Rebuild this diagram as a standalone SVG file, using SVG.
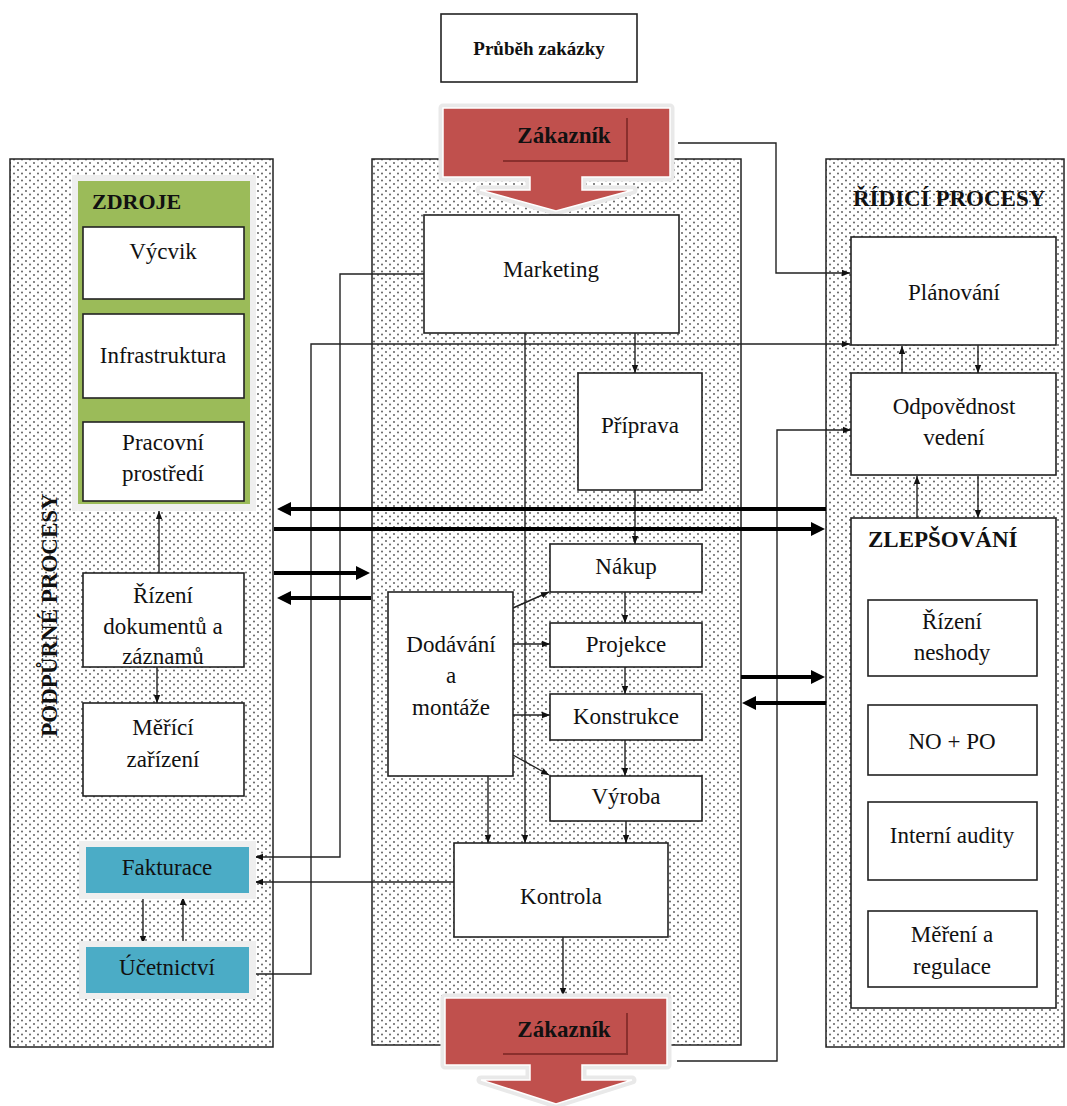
<svg xmlns="http://www.w3.org/2000/svg" width="1067" height="1106" viewBox="0 0 1067 1106">
  <defs>
    <pattern id="dots" width="8" height="7" patternUnits="userSpaceOnUse">
      <circle cx="2" cy="2" r="0.9" fill="#505050"/>
      <circle cx="6" cy="5.5" r="0.9" fill="#505050"/>
    </pattern>
    <marker id="arr" viewBox="0 0 10 10" refX="10" refY="5" markerWidth="8" markerHeight="8" markerUnits="userSpaceOnUse" orient="auto">
      <path d="M0,1 L10,5 L0,9 z" fill="#111"/>
    </marker>
    <marker id="arrBig" viewBox="0 0 14 14" refX="1" refY="7" markerWidth="14" markerHeight="14" markerUnits="userSpaceOnUse" orient="auto">
      <path d="M0,0 L14,7 L0,14 z" fill="#000"/>
    </marker>
  </defs>
  <style>
    .panel { fill: url(#dots); stroke: #222; stroke-width: 1.5; }
    .box { fill: #fff; stroke: #222; stroke-width: 1.6; }
    text { font-family: 'Liberation Serif', 'DejaVu Serif', serif; fill: #111; }
    .t { font-size: 23px; text-anchor: middle; }
    .h { font-size: 23px; font-weight: bold; }
    .c { fill: none; stroke: #222; stroke-width: 1.4; marker-end: url(#arr); }
    .thick { fill: none; stroke: #000; stroke-width: 4; marker-end: url(#arrBig); }
    .halo { fill: #e9e9e9; stroke: #e9e9e9; stroke-width: 9; stroke-linejoin: round; }
    .red { fill: #C0504D; stroke: #fff; stroke-width: 1.5; stroke-linejoin: miter; }
    .bevel { fill: none; stroke: #8a2f2d; stroke-width: 2; }
  </style>

  <!-- process areas -->
  <g id="panel-podpurne">
    <rect class="panel" x="10" y="159" width="263" height="888"/>
    <text class="h" text-anchor="middle" transform="translate(57,615) rotate(-90)">PODPŮRNÉ PROCESY</text>
  </g>
  <g id="panel-realizace">
    <rect class="panel" x="372" y="159" width="369" height="886"/>
  </g>
  <g id="panel-ridici">
    <rect class="panel" x="826" y="159" width="238" height="888"/>
    <text class="h" x="853" y="206">ŘÍDICÍ PROCESY</text>
  </g>

  <!-- connectors -->
  <g id="connectors">
    <path class="c" d="M678,143 H776 V273 H850"/>
    <path class="c" d="M677,1061 H777 V430 H851"/>
    <path class="c" d="M635,333 V373"/>
    <path class="c" d="M635,490 V544"/>
    <path class="c" d="M625,592 V623"/>
    <path class="c" d="M625,667 V694"/>
    <path class="c" d="M625,740 V776"/>
    <path class="c" d="M626,821 V843"/>
    <path class="c" d="M525,333 V843"/>
    <path class="c" d="M488,776 V843"/>
    <path class="c" d="M513,608 L549,592"/>
    <path class="c" d="M513,644 H550"/>
    <path class="c" d="M513,715 H550"/>
    <path class="c" d="M513,755 L549,775"/>
    <path class="c" d="M563,937 V996"/>
    <path class="c" d="M454,882 H255"/>
    <path class="c" d="M424,274 H340 V857 H255"/>
    <path class="c" d="M255,974 H311 V344 H850"/>
    <path class="c" d="M143,896 V944"/>
    <path class="c" d="M183,944 V897"/>
    <path class="c" d="M159,573 V511"/>
    <path class="c" d="M157,667 V703"/>
    <path class="c" d="M902,373 V346"/>
    <path class="c" d="M978,346 V373"/>
    <path class="c" d="M917,518 V476"/>
    <path class="c" d="M978,476 V518"/>
    <path class="thick" d="M826,509 H290"/>
    <path class="thick" d="M274,529 H812"/>
    <path class="thick" d="M274,573 H357"/>
    <path class="thick" d="M371,598 H290"/>
    <path class="thick" d="M741,677 H812"/>
    <path class="thick" d="M826,703 H755"/>
  </g>

  <!-- title -->
  <g id="title">
    <rect class="box" x="441" y="14" width="196" height="68"/>
    <text class="h" x="539" y="55" text-anchor="middle" style="font-size:19px">Průběh zakázky</text>
  </g>

  <!-- customer, entry -->
  <g id="zakaznik-vstup">
    <path class="halo" d="M443,108 H670 V177 H582 V190 H633 L556,211 L480,190 H530 V177 H443 Z"/>
    <path class="red" d="M443,108 H670 V177 H582 V190 H633 L556,211 L480,190 H530 V177 H443 Z"/>
    <path class="bevel" d="M503,161 H627 V118"/>
    <text class="h" x="564" y="143" text-anchor="middle">Zákazník</text>
  </g>

  <!-- customer, exit -->
  <g id="zakaznik-vystup">
    <path class="halo" d="M445,998 H667 V1065 H582 V1080 H632 L556,1104 L481,1080 H530 V1065 H445 Z"/>
    <path class="red" d="M445,998 H667 V1065 H582 V1080 H632 L556,1104 L481,1080 H530 V1065 H445 Z"/>
    <path class="bevel" d="M503,1054 H627 V1013"/>
    <text class="h" x="564" y="1037" text-anchor="middle">Zákazník</text>
  </g>

  <!-- resources -->
  <g id="zdroje">
    <rect x="72" y="175" width="184" height="336" fill="#efefef"/>
    <rect x="78" y="181" width="172" height="323" fill="#9BBB59"/>
    <text class="h" x="92" y="209" style="font-size:22px">ZDROJE</text>
  </g>
  <g id="vycvik">
    <rect class="box" x="83" y="227" width="161" height="72"/>
    <text class="t" x="163" y="259">Výcvik</text>
  </g>
  <g id="infrastruktura">
    <rect class="box" x="83" y="314" width="161" height="84"/>
    <text class="t" x="163" y="363">Infrastruktura</text>
  </g>
  <g id="pracovni-prostredi">
    <rect class="box" x="83" y="422" width="161" height="79"/>
    <text class="t" x="163" y="450">Pracovní</text>
    <text class="t" x="163" y="481">prostředí</text>
  </g>
  <g id="rizeni-dokumentu">
    <rect class="box" x="83" y="573" width="161" height="94"/>
    <text class="t" x="163" y="603">Řízení</text>
    <text class="t" x="163" y="634">dokumentů a</text>
    <text class="t" x="163" y="664">záznamů</text>
  </g>
  <g id="merici-zarizeni">
    <rect class="box" x="83" y="703" width="161" height="93"/>
    <text class="t" x="163" y="735">Měřící</text>
    <text class="t" x="163" y="767">zařízení</text>
  </g>
  <g id="fakturace">
    <rect x="79" y="841" width="177" height="58" fill="#efefef"/>
    <rect x="86" y="847" width="163" height="46" fill="#4BACC6"/>
    <text class="t" x="167" y="875">Fakturace</text>
  </g>
  <g id="ucetnictvi">
    <rect x="79" y="941" width="177" height="58" fill="#efefef"/>
    <rect x="86" y="947" width="163" height="46" fill="#4BACC6"/>
    <text class="t" x="167" y="975">Účetnictví</text>
  </g>

  <!-- realisation -->
  <g id="marketing">
    <rect class="box" x="424" y="215" width="255" height="118"/>
    <text class="t" x="551" y="277">Marketing</text>
  </g>
  <g id="priprava">
    <rect class="box" x="578" y="373" width="124" height="117"/>
    <text class="t" x="640" y="433">Příprava</text>
  </g>
  <g id="nakup">
    <rect class="box" x="550" y="544" width="152" height="48"/>
    <text class="t" x="626" y="574">Nákup</text>
  </g>
  <g id="projekce">
    <rect class="box" x="550" y="623" width="152" height="44"/>
    <text class="t" x="626" y="652">Projekce</text>
  </g>
  <g id="konstrukce">
    <rect class="box" x="550" y="694" width="152" height="46"/>
    <text class="t" x="626" y="724">Konstrukce</text>
  </g>
  <g id="vyroba">
    <rect class="box" x="550" y="776" width="152" height="45"/>
    <text class="t" x="626" y="804">Výroba</text>
  </g>
  <g id="dodavani-montaze">
    <rect class="box" x="388" y="592" width="125" height="184"/>
    <text class="t" x="451" y="652">Dodávání</text>
    <text class="t" x="451" y="683">a</text>
    <text class="t" x="451" y="715">montáže</text>
  </g>
  <g id="kontrola">
    <rect class="box" x="454" y="843" width="214" height="94"/>
    <text class="t" x="561" y="904">Kontrola</text>
  </g>

  <!-- management -->
  <g id="planovani">
    <rect class="box" x="851" y="237" width="205" height="108"/>
    <text class="t" x="954" y="300">Plánování</text>
  </g>
  <g id="odpovednost-vedeni">
    <rect class="box" x="851" y="373" width="205" height="102"/>
    <text class="t" x="954" y="414">Odpovědnost</text>
    <text class="t" x="954" y="445">vedení</text>
  </g>
  <g id="zlepsovani">
    <rect class="box" x="851" y="518" width="205" height="490"/>
    <text class="h" x="868" y="547">ZLEPŠOVÁNÍ</text>
  </g>
  <g id="rizeni-neshody">
    <rect class="box" x="868" y="600" width="169" height="76"/>
    <text class="t" x="952" y="629">Řízení</text>
    <text class="t" x="952" y="660">neshody</text>
  </g>
  <g id="no-po">
    <rect class="box" x="868" y="705" width="169" height="70"/>
    <text class="t" x="952" y="749">NO + PO</text>
  </g>
  <g id="interni-audity">
    <rect class="box" x="868" y="802" width="169" height="78"/>
    <text class="t" x="952" y="843">Interní audity</text>
  </g>
  <g id="mereni-regulace">
    <rect class="box" x="868" y="911" width="169" height="76"/>
    <text class="t" x="952" y="942">Měření a</text>
    <text class="t" x="952" y="974">regulace</text>
  </g>
</svg>
